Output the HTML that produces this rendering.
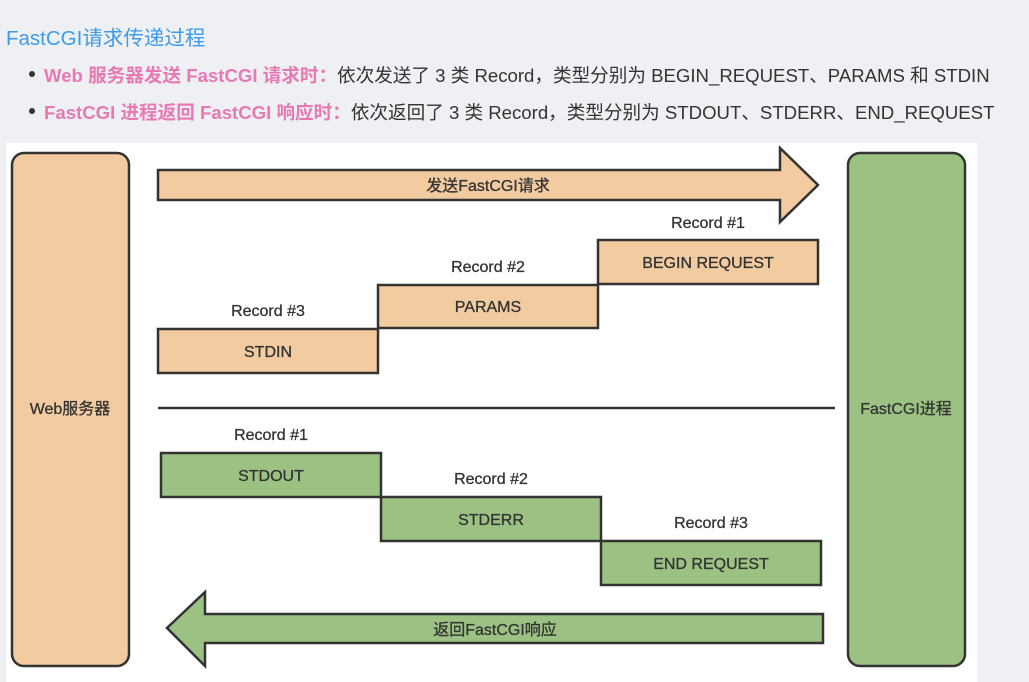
<!DOCTYPE html>
<html><head><meta charset="utf-8"><style>
body{margin:0;width:1029px;height:682px;background:#eef0f4;position:relative;overflow:hidden;font-family:"Liberation Sans","Noto Sans CJK SC",sans-serif;}
.t{position:absolute;left:6px;top:21px;font-size:20.5px;color:#3d9be9;}
.b{position:absolute;left:44px;font-size:18.6px;color:#333;white-space:nowrap}
.b:before{content:"";position:absolute;left:-15px;top:10px;width:6px;height:6px;border-radius:50%;background:#333}
.b span{color:#e879b3;font-weight:bold}
</style></head><body>
<div class="t">FastCGI请求传递过程</div>
<div class="b" style="top:61px"><span>Web 服务器发送 FastCGI 请求时：</span>依次发送了 3 类 Record，类型分别为 BEGIN_REQUEST、PARAMS 和 STDIN</div>
<div class="b" style="top:98px"><span>FastCGI 进程返回 FastCGI 响应时：</span>依次返回了 3 类 Record，类型分别为 STDOUT、STDERR、END_REQUEST</div>
<svg style="position:absolute;left:0;top:0" width="1029" height="682" font-family="Liberation Sans,Noto Sans CJK SC,sans-serif" fill="#333">
<rect x="6" y="143" width="971" height="539" fill="#fff"/>
<g stroke="#333" stroke-width="2.5">
<rect x="12" y="153" width="117" height="513" rx="12" fill="#f2cba0"/>
<rect x="848" y="153" width="117" height="513" rx="12" fill="#9bc283"/>
<polygon points="158,170 780,170 780,148 818,185 780,222 780,200 158,200" fill="#f2cba0"/>
<polygon points="823,614 205,614 205,592 167,628 205,666 205,643 823,643" fill="#9bc283"/>
<rect x="598" y="240" width="220" height="44" fill="#f2cba0"/>
<rect x="378" y="285" width="220" height="43" fill="#f2cba0"/>
<rect x="158" y="329" width="220" height="44" fill="#f2cba0"/>
<rect x="161" y="453" width="220" height="44" fill="#9bc283"/>
<rect x="381" y="497" width="220" height="44" fill="#9bc283"/>
<rect x="601" y="541" width="220" height="44" fill="#9bc283"/>
<line x1="158" y1="408" x2="835" y2="408"/>
</g>
<g font-size="16" text-anchor="middle" stroke="#333" stroke-width="0.3">
<text x="70" y="414">Web服务器</text>
<text x="906" y="414">FastCGI进程</text>
<text x="488" y="191">发送FastCGI请求</text>
<text x="495" y="635">返回FastCGI响应</text>
<text x="708" y="268">BEGIN REQUEST</text>
<text x="488" y="312">PARAMS</text>
<text x="268" y="357">STDIN</text>
<text x="271" y="481">STDOUT</text>
<text x="491" y="525">STDERR</text>
<text x="711" y="569">END REQUEST</text>
<text x="708" y="228">Record #1</text>
<text x="488" y="272">Record #2</text>
<text x="268" y="316">Record #3</text>
<text x="271" y="440">Record #1</text>
<text x="491" y="484">Record #2</text>
<text x="711" y="528">Record #3</text>
</g>
</svg>
</body></html>
